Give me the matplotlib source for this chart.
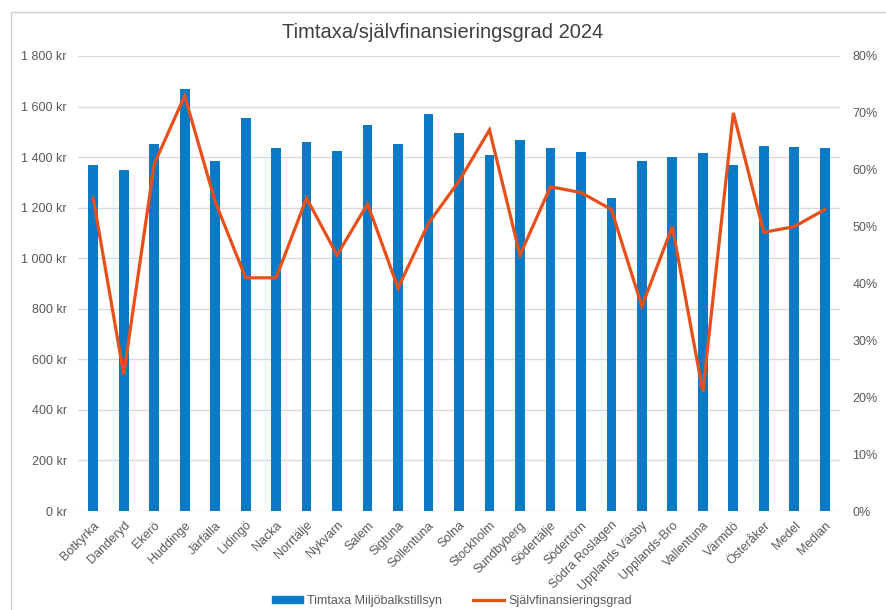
import matplotlib
matplotlib.use("Agg")
import matplotlib.pyplot as plt
from matplotlib.ticker import FuncFormatter, MultipleLocator
from matplotlib.patches import Rectangle
from matplotlib.lines import Line2D

plt.rcParams['font.family'] = ['Liberation Sans', 'DejaVu Sans']

categories = ["Botkyrka", "Danderyd", "Ekerö", "Huddinge", "Järfälla", "Lidingö", "Nacka",
              "Norrtälje", "Nykvarn", "Salem", "Sigtuna", "Sollentuna", "Solna", "Stockholm",
              "Sundbyberg", "Södertälje", "Södertörn", "Södra Roslagen", "Upplands Väsby",
              "Upplands-Bro", "Vallentuna", "Värmdö", "Österåker", "Medel", "Median"]
timtaxa = [1370, 1350, 1450, 1670, 1383, 1555, 1435, 1458, 1425, 1527, 1450, 1570, 1495,
           1410, 1467, 1437, 1420, 1238, 1383, 1400, 1415, 1370, 1445, 1440, 1435]
sjalvfin = [55.0, 24.0, 61.0, 73.0, 54.4, 41.0, 41.0, 55.0, 45.0, 54.0, 39.2, 50.6, 58.0,
            67.0, 45.0, 57.0, 56.0, 53.0, 36.0, 50.0, 21.0, 70.0, 49.0, 50.0, 53.0]

title = "Timtaxa/självfinansieringsgrad 2024"
bar_label = "Timtaxa Miljöbalkstillsyn"
line_label = "Självfinansieringsgrad"

bar_color = "#0A7AC6"
line_color = "#E8501A"
grid_color = "#D9D9D9"
text_color = "#595959"

fig = plt.figure(figsize=(8.86, 6.10), dpi=100)
ax = fig.add_axes([78/886, 1-511/610, (840-78)/886, (511-56)/610])
ax2 = ax.twinx()

x = list(range(len(categories)))
ax.bar(x, timtaxa, width=0.32, color=bar_color, zorder=2)
ax.set_xlim(-0.5, len(categories)-0.5)
ax.set_ylim(0, 1800)
ax.yaxis.set_major_locator(MultipleLocator(200))
ax.yaxis.set_major_formatter(FuncFormatter(lambda v, p: f"{int(v):,}".replace(",", " ") + " kr"))
ax.grid(axis='y', color=grid_color, linewidth=1.0, zorder=0)
ax.set_axisbelow(True)

ax2.plot(x, sjalvfin, color=line_color, linewidth=2.3, solid_joinstyle='miter', zorder=3)
ax2.set_ylim(0, 80)
ax2.yaxis.set_major_locator(MultipleLocator(10))
ax2.yaxis.set_major_formatter(FuncFormatter(lambda v, p: f"{int(v)}%"))

for a in (ax, ax2):
    for s in a.spines.values():
        s.set_visible(False)
    a.tick_params(length=0, labelsize=9, colors=text_color)

ax.tick_params(axis='y', pad=8)
ax2.tick_params(axis='y', pad=9)
ax.set_xticks(x)
ax.set_xticklabels(categories, rotation=45, ha='right', rotation_mode='anchor', fontsize=9, color=text_color)
ax.tick_params(axis='x', pad=6)

fig.text(0.5, 1-32/610, title, ha='center', va='center', fontsize=14.5, color='#404040')

handles = [Rectangle((0, 0), 1, 1, color=bar_color),
           Line2D([0], [0], color=line_color, linewidth=2.3)]
fig.legend(handles, [bar_label, line_label], loc='center', bbox_to_anchor=(0.51, 1-601/610),
           ncol=2, frameon=False, fontsize=9, labelcolor=text_color, handlelength=2.5,
           handleheight=0.5, columnspacing=2.5, handletextpad=0.3)

fig.patches.append(Rectangle((11/886, -0.05), 1.0, 1.05-12/610, transform=fig.transFigure,
                             fill=False, edgecolor='#D0D0D0', linewidth=1.0))

fig.savefig("out.png", dpi=100)
